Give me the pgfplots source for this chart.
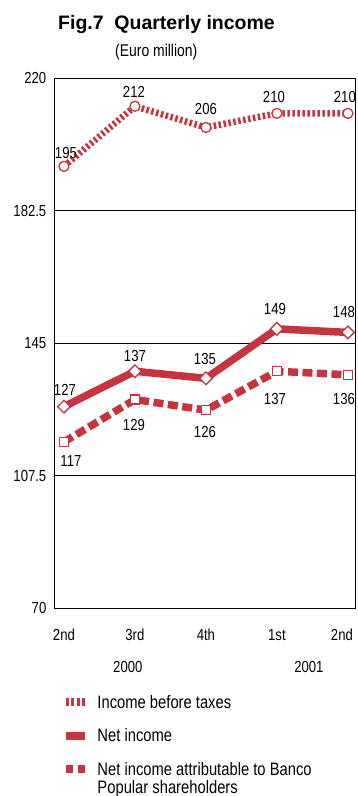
\documentclass[border=0pt]{standalone}
\usepackage{fontspec}
\setmainfont{Liberation Sans}[FakeStretch=0.82]
\newfontfamily\titlefont{Liberation Sans}
\usepackage{pgfplots}
\usepackage{pgfplotstable}
\pgfplotsset{compat=1.18}

\definecolor{popred}{RGB}{198,53,63}

% quarter index, value, label offsets (pt)
\pgfplotstableread{
x y dx dy
0 195 2 8
1 212 -1 9
2 206 0 12.5
3 210 -3 11
4 210 -3 11
}\pretax
\pgfplotstableread{
x y dx dy
0 127 1 11.5
1 137 0 9.5
2 135 -1 14
3 149 -2 14
4 148 -4 15
}\netinc
\pgfplotstableread{
x y dx dy
0 117 7 -25
1 129 -1 -30.5
2 126 -1 -27
3 137 -2 -33.5
4 136 -4 -30
}\attrib

\begin{document}
\begin{tikzpicture}
\useasboundingbox (-54pt,-188pt) rectangle (303pt,608pt);
\begin{axis}[
  at={(0pt,0pt)}, anchor=south west,
  scale only axis, width=301pt, height=530pt,
  xmin=-0.14, xmax=4.1, ymin=70, ymax=220,
  xtick={0,1,2,3,4}, xticklabels={2nd,3rd,4th,1st,\hspace*{-12pt}2nd},
  ytick={70,107.5,145,182.5,220}, yticklabels={70,107.5,145,182.5,220},
  major tick length=0pt,
  ymajorgrids, major grid style={black, line width=0.7pt},
  axis line style={black, line width=0.9pt},
  /pgf/number format/assume math mode=true,
  tick label style={font=\fontsize{16}{19}\selectfont, inner sep=0pt},
  xticklabel style={anchor=base, yshift=-32pt},
  yticklabel style={anchor=east, xshift=-7.5pt},
  clip=false,
  nodes near coords,
  point meta=y,
  visualization depends on=\thisrow{dx}\as\ldx,
  visualization depends on=\thisrow{dy}\as\ldy,
  every node near coord/.append style={anchor=base, inner sep=0pt,
    xshift=\ldx pt, yshift=\ldy pt, text=black,
    font=\fontsize{16}{19}\selectfont},
  legend style={at={(0,0)}, anchor=north west, xshift=8.5pt, yshift=-87pt,
    draw=none, fill=none, inner sep=0pt, outer sep=0pt,
    font=\fontsize{18}{18}\selectfont,
    column sep=9pt, row sep=19.5pt,
    nodes={inner sep=0pt, text height=13pt, text depth=1pt}},
  legend cell align=left,
]
\addplot[popred, line width=6.5pt, dash pattern=on 2.5pt off 2.5pt,
  mark=*, mark size=5pt,
  mark options={solid, fill=white, draw=popred, line width=1.3pt},
  legend image code/.code={\draw[popred, solid, line width=7.5pt, dash pattern=on 2.9pt off 2.3pt] (0pt,0pt) -- (18.5pt,0pt);}]
  table[x=x, y=y] {\pretax};
\addlegendentry{Income before taxes}

\addplot[popred, line width=7.5pt,
  mark=square*, mark size=4.5pt,
  mark options={solid, rotate=45, fill=white, draw=popred, line width=1.3pt},
  legend image code/.code={\path[fill=popred, draw=none] (0pt,-4pt) rectangle (18.5pt,4pt);}]
  table[x=x, y=y] {\netinc};
\addlegendentry{Net income}

\addplot[popred, line width=7.5pt, dash pattern=on 10pt off 4.5pt,
  mark=square*, mark size=4.5pt,
  mark options={solid, fill=white, draw=popred, line width=1.3pt},
  legend image code/.code={\path[fill=popred, draw=none] (0pt,-3.8pt) rectangle (7.2pt,3.8pt);
    \path[fill=popred, draw=none] (11.3pt,-3.8pt) rectangle (18.5pt,3.8pt);}]
  table[x=x, y=y] {\attrib};
\addlegendentry{\begin{tabular}[t]{@{}l@{}}Net income attributable to Banco\\Popular shareholders\end{tabular}}

\node[anchor=base, inner sep=0pt, font=\fontsize{16}{19}\selectfont] at (axis cs:0.9,70) [yshift=-64pt] {2000};
\node[anchor=base, inner sep=0pt, font=\fontsize{16}{19}\selectfont] at (axis cs:3.45,70) [yshift=-64pt] {2001};
\end{axis}
\node[anchor=base west, inner sep=0pt, font=\titlefont\bfseries\fontsize{19.5}{22}\selectfont] at (4pt,578pt) {Fig.7\hspace{0.55em}Quarterly income};
\node[anchor=base west, inner sep=0pt, font=\fontsize{17}{20}\selectfont] at (61pt,551pt) {(Euro million)};
\end{tikzpicture}
\end{document}
